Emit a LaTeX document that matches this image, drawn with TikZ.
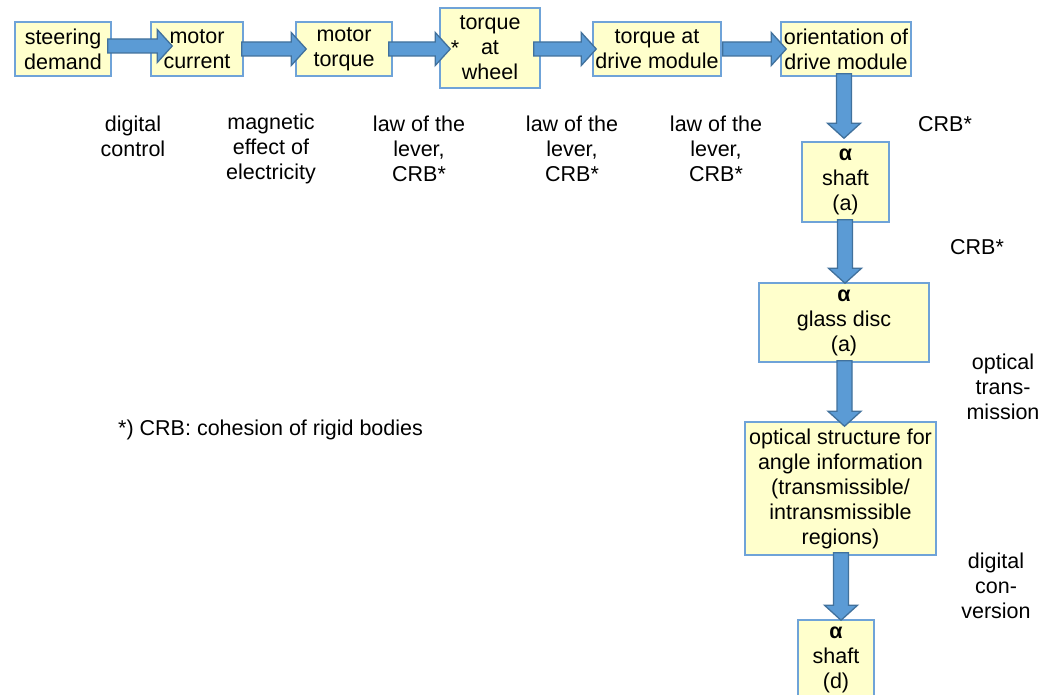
\documentclass[tikz,border=0pt]{standalone}
\usepackage{fontspec}
\setmainfont{Liberation Sans}
\usetikzlibrary{calc}
\definecolor{boxfill}{HTML}{FFFFCC}
\definecolor{boxline}{HTML}{6FA3D8}
\definecolor{arrfill}{HTML}{5B9BD5}
\definecolor{arrline}{HTML}{41719C}
\tikzset{
 stepbox/.style={draw=boxline, fill=boxfill, line width=1.5pt, inner sep=0pt, align=center, font=\fontsize{21.5}{25}\selectfont},
 lbl/.style={inner sep=0pt, align=center, font=\fontsize{21.5}{25}\selectfont},
 barrow/.style={fill=arrfill, draw=arrline, line width=1.3pt, line join=miter}
}
\newcommand\harrow[2]{\filldraw[barrow] let \p1=(#1), \p2=(#2) in (\x1,\y1+7pt) -- (\x2-15pt,\y1+7pt) -- (\x2-15pt,\y1+16.5pt) -- (\x2,\y1) -- (\x2-15pt,\y1-16.5pt) -- (\x2-15pt,\y1-7pt) -- (\x1,\y1-7pt) -- cycle;}
\newcommand\varrow[2]{\filldraw[barrow] let \p1=(#1), \p2=(#2) in (\x1-7.5pt,\y1) -- (\x1-7.5pt,\y2+15pt) -- (\x1-16.5pt,\y2+15pt) -- (\x1,\y2) -- (\x1+16.5pt,\y2+15pt) -- (\x1+7.5pt,\y2+15pt) -- (\x1+7.5pt,\y1) -- cycle;}
\begin{document}
\begin{tikzpicture}[x=1pt,y=-1pt]
\clip (0,0) rectangle (1056,695);
\fill[white] (0,0) rectangle (1056,695);
% boxes
\node[stepbox, minimum width=96pt, minimum height=54pt] (b1) at (63,49) {steering\\demand};
\node[stepbox, minimum width=92pt, minimum height=54pt] (b2) at (197,49) {motor\\current};
\node[stepbox, minimum width=96pt, minimum height=54pt] (b3) at (344,49) {motor\\torque};
\node[stepbox, minimum width=100pt, minimum height=80pt] (b4) at (490,48) {torque\\at\\wheel};
\node[stepbox, minimum width=128pt, minimum height=54pt] (b5) at (657,49) {torque at\\drive module};
\node[stepbox, minimum width=130pt, minimum height=54pt] (b6) at (846,49) {orientation of\\drive module};
\node[stepbox, minimum width=87pt, minimum height=80pt] (b7) at (845.5,182) {\textbf{α}\\shaft\\(a)};
\node[stepbox, minimum width=170pt, minimum height=79pt] (b8) at (844,322.5) {\textbf{α}\\glass disc\\(a)};
\node[stepbox, minimum width=191pt, minimum height=133pt] (b9) at (840.5,488.5) {optical structure for\\angle information\\(transmissible/\\intransmissible\\regions)};
\node[stepbox, minimum width=76pt, minimum height=80pt] (b10) at (836,660) {\textbf{α}\\shaft\\(d)};
% arrows
\harrow{$(b1.east)+(-4,-3)$}{$(b2.west)+(22,-3)$}
\harrow{$(b2.east)+(-2,0)$}{$(b3.west)+(11,0)$}
\harrow{$(b3.east)+(-4,0)$}{$(b4.west |- b3.west)+(11,0)$}
\harrow{$(b4.east |- b5.west)+(-7,0)$}{$(b5.west)+(4,0)$}
\harrow{$(b5.east)+(1,0)$}{$(b6.west)+(6,0)$}
\varrow{$(b6.south)+(-2,-3)$}{$(b7.north)+(0,-3)$}
\varrow{$(b7.south)+(-0.5,-3)$}{$(b8.north)+(0,1)$}
\varrow{$(b8.south)+(0.5,-2)$}{$(b9.north)+(0,5)$}
\varrow{$(b9.south)+(0.5,-3)$}{$(b10.north)+(0,1)$}
% star in wheel box
\node[lbl, anchor=base] (star) at (455,56) {*};
% labels
\node[lbl] (l1) at (133,136) {digital\\control};
\node[lbl] (l2) at (271,149) {magnetic\\effect of\\electricity};
\node[lbl] (l3) at (419,149) {law of the\\lever,\\CRB*};
\node[lbl] (l4) at (572,149) {law of the\\lever,\\CRB*};
\node[lbl] (l5) at (716,149) {law of the\\lever,\\CRB*};
\node[lbl] (l6) at (945,124) {CRB*};
\node[lbl] (l7) at (977,247) {CRB*};
\node[lbl] (l8) at (1003,387) {optical\\trans-\\mission};
\node[lbl] (l9) at (996,586) {digital\\con-\\version};
\node[lbl, anchor=west] (fn) at (118,430) {*) CRB: cohesion of rigid bodies};
\end{tikzpicture}
\end{document}
